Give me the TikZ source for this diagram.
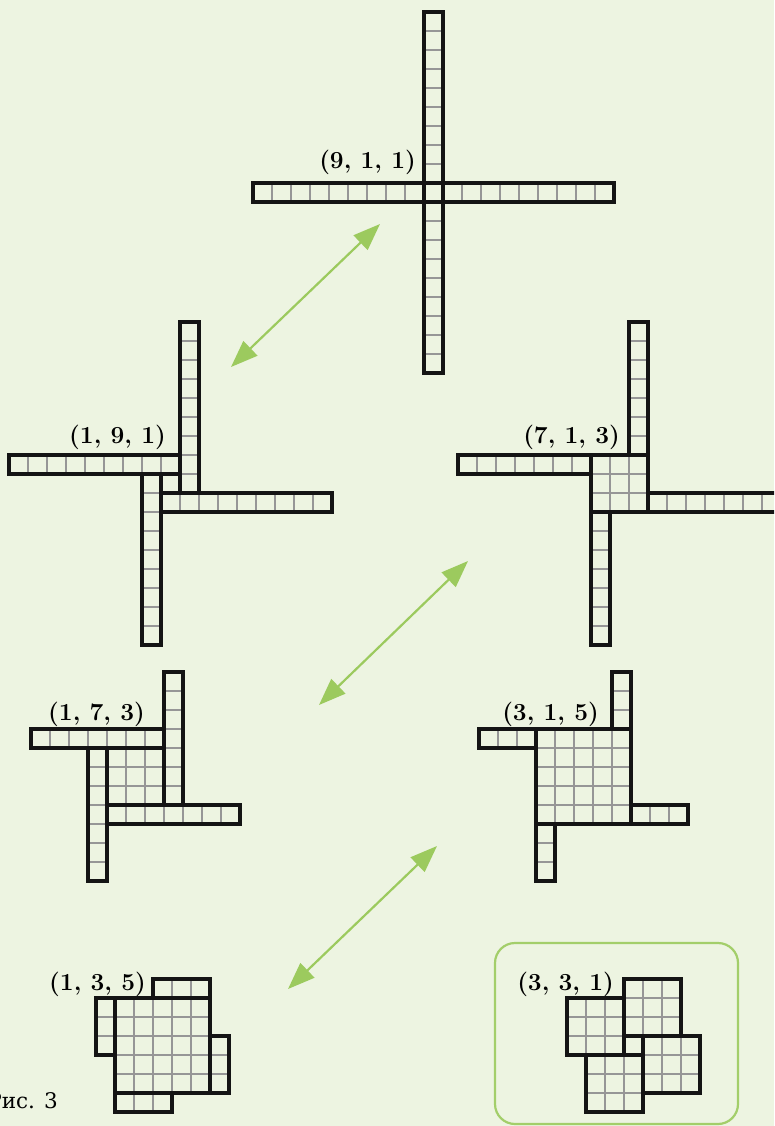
\documentclass[tikz,border=0pt]{standalone}
\usepackage{fontspec}
\usetikzlibrary{arrows.meta}
\newfontfamily\capfont{DejaVu Serif}
\definecolor{bgc}{RGB}{237,244,225}
\definecolor{arrc}{RGB}{156,202,94}
\definecolor{boxc}{RGB}{163,206,106}
\definecolor{gridc}{RGB}{150,150,150}
\tikzset{
  gridl/.style={draw=gridc, line width=1.4pt},
  outl/.style={draw=black!92, line width=3.2pt, line join=miter},
  lbl/.style={anchor=base east, inner sep=0pt, font=\fontsize{24.5}{28}\selectfont\bfseries},
  dbl/.style={draw=arrc, line width=2.2pt, {Triangle[length=27pt,width=20pt]}-{Triangle[length=27pt,width=20pt]}},
  frame/.style={draw=boxc, line width=2.2pt, rounded corners=20pt}
}
% grid of a piece: x0, y0 (pixels, top-left), nx, ny (cells)
\newcommand\grd[4]{%
  \foreach \k in {1,...,19}{%
    \ifnum\k<#3 \draw[gridl] ({#1+19*\k},{#2}) -- ++(0,{19*#4});\fi
    \ifnum\k<#4 \draw[gridl] ({#1},{#2+19*\k}) -- ++({19*#3},0);\fi
  }}
\newcommand\olin[4]{\draw[outl] ({#1},{#2}) rectangle ++({19*#3},{19*#4});}
\begin{document}
\begin{tikzpicture}[x=1pt,y=-1pt]
\useasboundingbox (0,0) rectangle (774,1126);
\clip (0,0) rectangle (774,1126);
\fill[bgc] (0,0) rectangle (774,1126);

% ---------- grids ----------
% (9,1,1)
\grd{424}{12}{1}{9}\grd{253}{183}{9}{1}\grd{443}{183}{9}{1}\grd{424}{202}{1}{9}
% (1,9,1)
\grd{180}{322}{1}{9}\grd{9}{455}{9}{1}\grd{142}{474}{1}{9}\grd{161}{493}{9}{1}
% (7,1,3)
\grd{591}{455}{3}{3}\grd{629}{322}{1}{7}\grd{458}{455}{7}{1}\grd{648}{493}{7}{1}\grd{591}{512}{1}{7}
% (1,7,3)
\grd{107}{748}{3}{3}\grd{164}{672}{1}{7}\grd{31}{729}{7}{1}\grd{88}{748}{1}{7}\grd{107}{805}{7}{1}
% (3,1,5)
\grd{536}{729}{5}{5}\grd{612}{672}{1}{3}\grd{479}{729}{3}{1}\grd{631}{805}{3}{1}\grd{536}{824}{1}{3}
% (1,3,5)
\grd{115}{998}{5}{5}\grd{210}{1036}{1}{3}\grd{153}{979}{3}{1}\grd{96}{998}{1}{3}\grd{115}{1093}{3}{1}
% (3,3,1)
\grd{567}{998}{3}{3}\grd{624}{979}{3}{3}\grd{643}{1036}{3}{3}\grd{586}{1055}{3}{3}

% ---------- outlines ----------
\olin{424}{183}{1}{1}\olin{424}{12}{1}{9}\olin{253}{183}{9}{1}\olin{443}{183}{9}{1}\olin{424}{202}{1}{9}
\olin{161}{474}{1}{1}\olin{180}{322}{1}{9}\olin{9}{455}{9}{1}\olin{142}{474}{1}{9}\olin{161}{493}{9}{1}
\olin{591}{455}{3}{3}\olin{629}{322}{1}{7}\olin{458}{455}{7}{1}\olin{648}{493}{7}{1}\olin{591}{512}{1}{7}
\olin{107}{748}{3}{3}\olin{164}{672}{1}{7}\olin{31}{729}{7}{1}\olin{88}{748}{1}{7}\olin{107}{805}{7}{1}
\olin{536}{729}{5}{5}\olin{612}{672}{1}{3}\olin{479}{729}{3}{1}\olin{631}{805}{3}{1}\olin{536}{824}{1}{3}
\olin{115}{998}{5}{5}\olin{210}{1036}{1}{3}\olin{153}{979}{3}{1}\olin{96}{998}{1}{3}\olin{115}{1093}{3}{1}
\olin{567}{998}{3}{3}\olin{624}{979}{3}{3}\olin{643}{1036}{3}{3}\olin{586}{1055}{3}{3}

% ---------- labels ----------
\node[lbl] (l911) at (416,168) {(9, 1, 1)};
\node[lbl] (l191) at (166,443) {(1, 9, 1)};
\node[lbl] (l713) at (620,443) {(7, 1, 3)};
\node[lbl] (l173) at (145,720) {(1, 7, 3)};
\node[lbl] (l315) at (599,720) {(3, 1, 5)};
\node[lbl] (l135) at (146,990) {(1, 3, 5)};
\node[lbl] (l331) at (614,990) {(3, 3, 1)};

% ---------- frame ----------
\draw[frame] (495,943) rectangle (738,1124);

% ---------- arrows ----------
\coordinate (a1s) at (231,367); \coordinate (a1e) at (380,224);
\coordinate (a2s) at (319,705); \coordinate (a2e) at (468,561);
\coordinate (a3s) at (288,989); \coordinate (a3e) at (437,846);
\draw[dbl] (a1s) -- (a1e);
\draw[dbl] (a2s) -- (a2e);
\draw[dbl] (a3s) -- (a3e);

% ---------- caption ----------
\node[anchor=base east, inner sep=0pt, font=\capfont\fontsize{21.5}{25}\selectfont] (cap) at (58,1108) {Рис. 3};
\end{tikzpicture}
\end{document}
